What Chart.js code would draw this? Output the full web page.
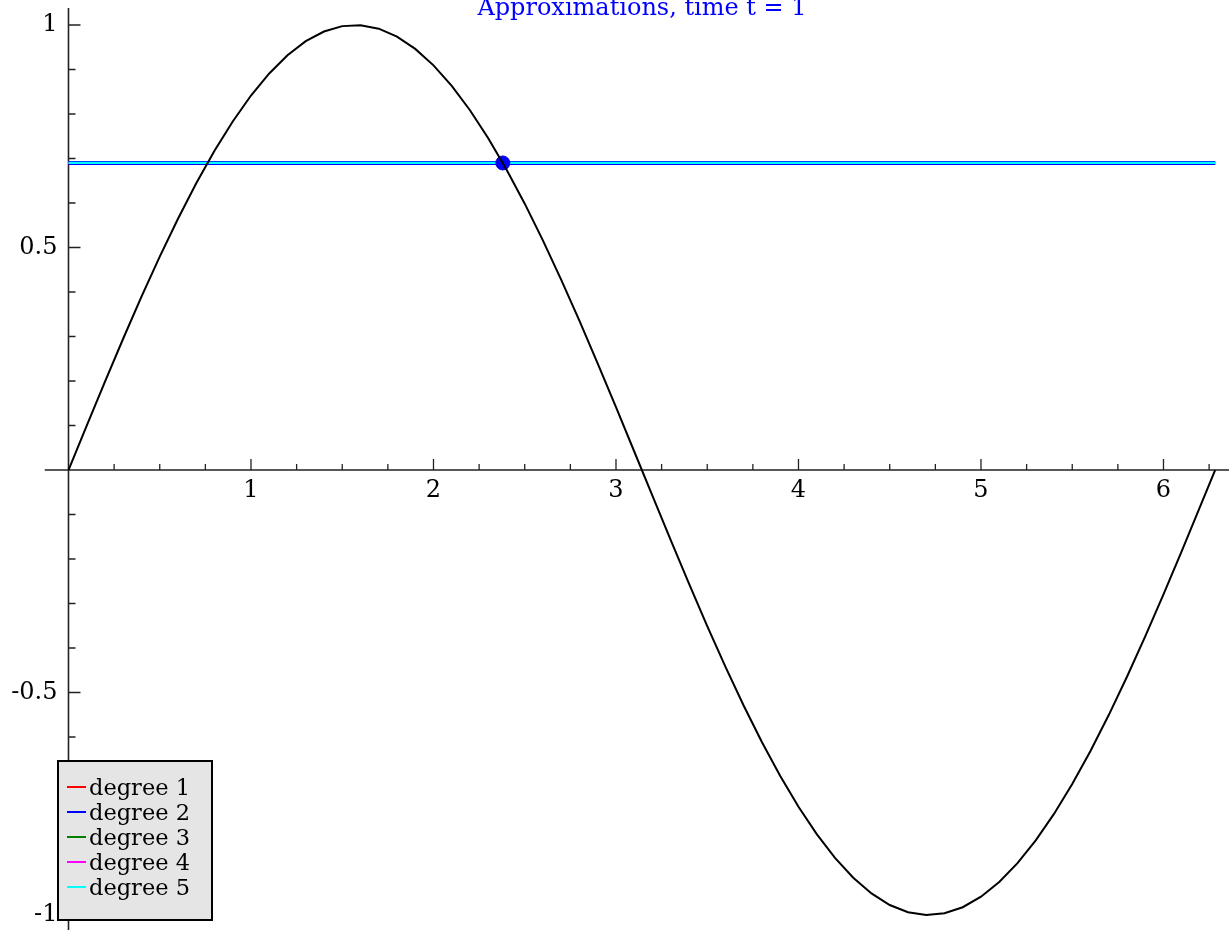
<!DOCTYPE html>
<html>
<head>
<meta charset="utf-8">
<title>Approximations, time t = 1</title>
<script src="https://cdn.jsdelivr.net/npm/chart.js@4/dist/chart.umd.min.js"></script>
<style>
  html, body { margin: 0; padding: 0; background: #fff; }
  canvas { display: block; }
</style>
</head>
<body>
<canvas id="approxChart" width="1229" height="930"></canvas>
<script>
// sin(x) sampled over one period
const curveX = [0, 0.1, 0.2, 0.3, 0.4, 0.5, 0.6, 0.7, 0.8, 0.9, 1.0, 1.1, 1.2, 1.3, 1.4, 1.5, 1.6, 1.7, 1.8, 1.9,
  2.0, 2.1, 2.2, 2.3, 2.4, 2.5, 2.6, 2.7, 2.8, 2.9, 3.0, 3.1, 3.2, 3.3, 3.4, 3.5, 3.6, 3.7, 3.8, 3.9,
  4.0, 4.1, 4.2, 4.3, 4.4, 4.5, 4.6, 4.7, 4.8, 4.9, 5.0, 5.1, 5.2, 5.3, 5.4, 5.5, 5.6, 5.7, 5.8, 5.9,
  6.0, 6.1, 6.2, 6.283];
const curveY = [0, 0.0998, 0.1987, 0.2955, 0.3894, 0.4794, 0.5646, 0.6442, 0.7174, 0.7833, 0.8415, 0.8912, 0.932, 0.9636, 0.9854, 0.9975, 0.9996, 0.9917, 0.9738, 0.9463,
  0.9093, 0.8632, 0.8085, 0.7457, 0.6755, 0.5985, 0.5155, 0.4274, 0.335, 0.2392, 0.1411, 0.0416, -0.0584, -0.1577, -0.2555, -0.3508, -0.4425, -0.5298, -0.6119, -0.6878,
  -0.7568, -0.8183, -0.8716, -0.9162, -0.9516, -0.9775, -0.9937, -0.9999, -0.9962, -0.9825, -0.9589, -0.9258, -0.8835, -0.8323, -0.7728, -0.7055, -0.6313, -0.5507, -0.4646, -0.3739,
  -0.2794, -0.1822, -0.0831, 0];

// approximations of each degree at t = 1 (all constant here)
const degreeLabels = ["degree 1", "degree 2", "degree 3", "degree 4", "degree 5"];
const approxLevel = [0.69, 0.69, 0.69, 0.69, 0.69];
const approxSpan = [0, 6.283];

// current point
const markX = [2.38];
const markY = [0.69];

const xTickLabels = [1, 2, 3, 4, 5, 6];
const yTickLabels = [-1, -0.5, 0.5, 1];

const degreeColors = ["#ff0000", "#0000ff", "#008000", "#ff00ff", "#00ffff"];
// draw order of the degree lines: blue sits just under cyan
const degreeOrder = [6, 3, 5, 4, 2];
const SERIF = "'DejaVu Serif', 'Liberation Serif', serif";

const datasets = [];
datasets.push({
  label: "sin",
  data: curveX.map((x, i) => ({ x: x, y: curveY[i] })),
  borderColor: "#000",
  borderWidth: 2,
  pointRadius: 0,
  tension: 0,
  order: 0,
});
datasets.push({
  label: "point",
  data: markX.map((x, i) => ({ x: x, y: markY[i] })),
  showLine: false,
  pointRadius: 7,
  pointBackgroundColor: "#0000ff",
  pointBorderColor: "#0000c8",
  pointBorderWidth: 1,
  order: 1,
});
degreeLabels.forEach((name, i) => {
  const last = i === degreeLabels.length - 1;
  datasets.push({
    label: name,
    data: approxSpan.map(x => ({ x: x, y: approxLevel[i] })),
    borderColor: degreeColors[i],
    borderWidth: last ? 2.2 : (i === 1 ? 4 : 3.4),
    pointRadius: 0,
    order: degreeOrder[i],
    isDegree: true,
  });
});

// no label padding around the plot: axes sit inside the area
const noPadding = scale => {
  scale.paddingTop = 0;
  scale.paddingBottom = 0;
  scale.paddingLeft = 0;
  scale.paddingRight = 0;
};

// axes through the origin, tick marks, y labels, title and legend box
const decorPlugin = {
  id: "decor",
  beforeDatasetsDraw(chart) {
    const ctx = chart.ctx;
    const xs = chart.scales.x, ys = chart.scales.y;
    const ox = xs.getPixelForValue(0), oy = ys.getPixelForValue(0);
    ctx.save();
    ctx.strokeStyle = "#222";
    ctx.lineWidth = 1.6;
    ctx.beginPath();
    ctx.moveTo(xs.getPixelForValue(-0.13), oy);
    ctx.lineTo(chart.width, oy);
    ctx.moveTo(ox, ys.getPixelForValue(1.038));
    ctx.lineTo(ox, chart.height);
    ctx.stroke();

    ctx.lineWidth = 1.3;
    ctx.beginPath();
    for (let k = 1; k <= 25; k++) {
      const v = k * 0.25;
      const px = xs.getPixelForValue(v);
      const len = k % 4 === 0 ? 11 : 6;
      ctx.moveTo(px, oy);
      ctx.lineTo(px, oy - len);
    }
    for (let k = -10; k <= 10; k++) {
      if (k === 0) continue;
      const py = ys.getPixelForValue(k / 10);
      const len = k % 5 === 0 ? 12 : 7;
      ctx.moveTo(ox, py);
      ctx.lineTo(ox + len, py);
    }
    ctx.stroke();

    // y tick labels, right-aligned left of the axis
    ctx.fillStyle = "#000";
    ctx.font = "24px " + SERIF;
    ctx.textAlign = "right";
    ctx.textBaseline = "middle";
    yTickLabels.forEach(v => {
      ctx.fillText(String(v), ox - 11, ys.getPixelForValue(v));
    });
    ctx.restore();
  },
  afterDraw(chart) {
    const ctx = chart.ctx;
    ctx.save();
    ctx.fillStyle = "#0000ff";
    ctx.font = "24px " + SERIF;
    ctx.textAlign = "center";
    ctx.textBaseline = "alphabetic";
    ctx.fillText("Approximations, time t = 1", 642, 15);

    // legend
    ctx.fillStyle = "#e5e5e5";
    ctx.fillRect(58, 761, 154, 159);
    ctx.strokeStyle = "#000";
    ctx.lineWidth = 2;
    ctx.strokeRect(58, 761, 154, 159);
    ctx.font = "22.5px " + SERIF;
    ctx.textAlign = "left";
    const items = chart.data.datasets.filter(d => d.isDegree);
    items.forEach((d, i) => {
      const y = 787 + i * 25;
      ctx.strokeStyle = d.borderColor;
      ctx.lineWidth = 2;
      ctx.beginPath();
      ctx.moveTo(67, y);
      ctx.lineTo(86, y);
      ctx.stroke();
      ctx.fillStyle = "#000";
      ctx.fillText(d.label, 89, y + 8);
    });
    ctx.restore();
  },
};

new Chart(document.getElementById("approxChart").getContext("2d"), {
  type: "line",
  data: { datasets: datasets },
  options: {
    responsive: false,
    animation: false,
    layout: { padding: 0, autoPadding: false },
    plugins: {
      legend: { display: false },
      tooltip: { enabled: false },
      title: { display: false },
    },
    scales: {
      x: {
        type: "linear",
        position: { y: 0 },
        min: -0.3753,
        max: 6.359,
        afterBuildTicks: scale => { scale.ticks = xTickLabels.map(v => ({ value: v })); },
        afterFit: noPadding,
        ticks: {
          font: { family: SERIF, size: 24 },
          color: "#000",
          padding: 6,
          maxRotation: 0,
          autoSkip: false,
          callback: v => String(v),
        },
        grid: { display: false, drawTicks: false },
        border: { display: false },
      },
      y: {
        type: "linear",
        position: { x: 0 },
        min: -1.0337,
        max: 1.0562,
        afterBuildTicks: scale => { scale.ticks = yTickLabels.map(v => ({ value: v })); },
        afterFit: noPadding,
        ticks: { display: false },
        grid: { display: false, drawTicks: false },
        border: { display: false },
      },
    },
  },
  plugins: [decorPlugin],
});
</script>
</body>
</html>
